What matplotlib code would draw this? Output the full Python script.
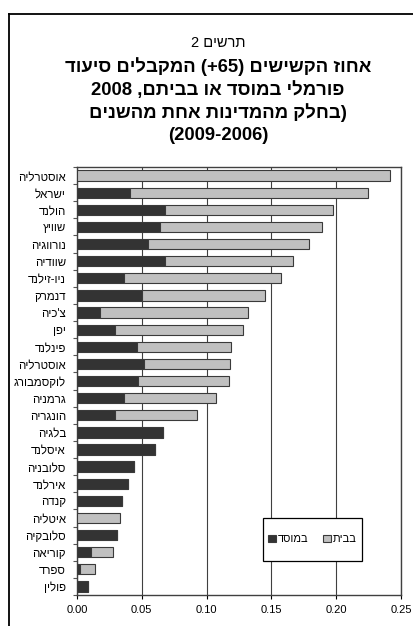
import matplotlib.pyplot as plt
from matplotlib.lines import Line2D
from matplotlib.patches import Rectangle
import numpy as np

plt.rcParams['font.family'] = ['Liberation Sans', 'DejaVu Sans']

# country names in logical order (reversed for display, matplotlib has no bidi)
countries = ["אוסטרליה", "ישראל", "הולנד", "שוויץ", "נורווגיה", "שוודיה",
             "ניו-זילנד", "דנמרק", "צ'כיה", "יפן", "פינלנד", "אוסטרליה",
             "לוקסמבורג", "גרמניה", "הונגריה", "בלגיה", "איסלנד", "סלובניה",
             "אירלנד", "קנדה", "איטליה", "סלובקיה", "קוריאה", "ספרד", "פולין"]
institution = [0.0, 0.041, 0.068, 0.064, 0.0545, 0.068, 0.0365, 0.050, 0.018,
               0.029, 0.046, 0.0515, 0.047, 0.0365, 0.029, 0.066, 0.060, 0.0437,
               0.039, 0.035, 0.0, 0.0306, 0.0105, 0.0026, 0.0085]
total = [0.2415, 0.2248, 0.1978, 0.189, 0.179, 0.1664, 0.1574, 0.1453, 0.1322,
         0.128, 0.119, 0.118, 0.117, 0.1072, 0.0928, 0.066, 0.0599, 0.0437,
         0.039, 0.035, 0.0334, 0.0306, 0.0275, 0.0141, 0.0085]
home = [t - i for t, i in zip(total, institution)]

legend_labels = ["במוסד", "בבית"]
# title lines already in visual (left-to-right glyph) order
title_top = "2 םישרת"
title_lines = ["דועיס םילבקמה (+65) םישישקה זוחא",
               "2008 ,םתיבב וא דסומב ילמרופ",
               "םינשהמ תחא תונידמהמ קלחב)",
               "(2009-2006)"]

fig = plt.figure(figsize=(4.14, 6.26), dpi=100)
ax = fig.add_axes([0.186, 0.0495, 0.7826, 0.6837])

y = np.arange(len(countries))
dark = "#333333"
light = "#c0c0c0"
edge = "#3a3a3a"
ax.barh(y, institution, height=0.6, color=dark, edgecolor=edge, linewidth=0.8,
        label=legend_labels[0][::-1], zorder=3)
ax.barh(y, home, left=institution, height=0.6, color=light, edgecolor=edge,
        linewidth=0.8, label=legend_labels[1][::-1], zorder=3)

ax.set_xlim(0, 0.25)
ax.set_ylim(len(countries) - 0.5, -0.5)
ax.set_xticks(np.arange(0, 0.2501, 0.05))
ax.set_xticklabels([f"{v:.2f}" for v in np.arange(0, 0.2501, 0.05)], fontsize=8)
ax.set_yticks(y)
ax.set_yticklabels([c[::-1] for c in countries], fontsize=8.3)
ax.set_yticks(np.arange(-0.5, len(countries), 1), minor=True)
ax.tick_params(axis='y', which='major', length=0, pad=8)
ax.tick_params(axis='y', which='minor', length=3, width=0.8, color="#555555")
ax.tick_params(axis='x', length=3, width=0.8, pad=4)
ax.xaxis.grid(True, color="#404040", linewidth=0.8, zorder=0)
ax.set_axisbelow(True)
for s in ax.spines.values():
    s.set_color("#404040")
    s.set_linewidth(1.0)

# legend
ax.add_patch(Rectangle((0.574, 0.079), 0.306, 0.101, transform=ax.transAxes,
                       facecolor="white", edgecolor="black", linewidth=0.9, zorder=4))
ax.legend(loc='center', bbox_to_anchor=(0.727, 0.13), ncol=2, frameon=False,
          fontsize=8, handlelength=0.7, handleheight=0.7, handletextpad=0.2,
          columnspacing=1.3).set_zorder(5)

# titles
fig.text(0.527, 1 - 43 / 626, title_top, ha='center', va='center', fontsize=10.5)
for k, line in enumerate(title_lines):
    fig.text(0.527, 1 - (67 + 23 * k) / 626, line, ha='center', va='center',
             fontsize=13.3, fontweight='bold')

# outer frame (top and left edges)
fig.add_artist(Line2D([9 / 414, 1], [1 - 14 / 626] * 2, color='black', linewidth=1.3))
fig.add_artist(Line2D([9 / 414] * 2, [0, 1 - 14 / 626], color='black', linewidth=1.3))

fig.savefig('out.png', dpi=100)
